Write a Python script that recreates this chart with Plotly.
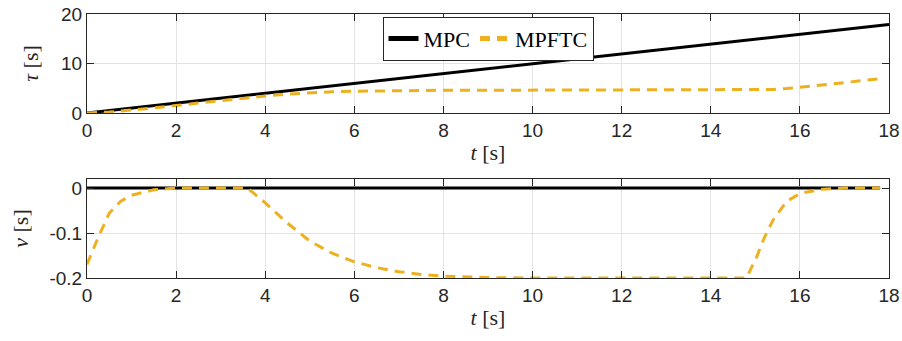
import plotly.graph_objects as go

# ---- data ----
t_mpc_tau = [0, 18]
tau_mpc = [0, 17.9]

t_mpftc = [0, 0.25, 0.5, 0.75, 1, 1.5, 2, 2.5, 3, 3.6, 4, 4.5, 5, 5.5, 6, 6.5, 7, 7.5, 8, 9, 10, 11,
           12, 13, 14, 14.8, 15.03, 15.2, 15.4, 15.7, 16, 16.5, 17, 17.8]
tau_mpftc = [0, 0.07, 0.2, 0.38, 0.58, 1.02, 1.5, 2.0, 2.5, 3.1, 3.45, 3.82, 4.08, 4.27, 4.4, 4.48, 4.54, 4.57,
             4.59, 4.6, 4.6, 4.6, 4.6, 4.6, 4.6, 4.6, 4.62, 4.66, 4.75, 4.93, 5.18, 5.65, 6.15, 6.95]
v_mpftc = [-0.17, -0.11, -0.056, -0.03, -0.016, -0.004, 0, 0, 0, 0, -0.033, -0.078, -0.118, -0.145, -0.164,
           -0.177, -0.186, -0.192, -0.196, -0.199, -0.2, -0.2, -0.2, -0.2, -0.2, -0.2, -0.153, -0.111, -0.071,
           -0.03, -0.012, -0.003, 0, 0]
t_mpc_v = [0, 17.8]
v_mpc = [0, 0]

x_ticks = [0, 2, 4, 6, 8, 10, 12, 14, 16, 18]
tau_ticks = [0, 10, 20]
v_ticks = [0, -0.1, -0.2]
v_tick_text = ["0", "-0.1", "-0.2"]

BLACK = "#000000"
YELLOW = "#EDB120"
AX = "#262626"
GRID = "#e3e3e3"
TICKFONT = dict(family="Liberation Sans", size=19, color=AX)
SERIF = "Liberation Serif"

fig = go.Figure()
fig.add_trace(go.Scatter(x=t_mpc_tau, y=tau_mpc, mode="lines", name="MPC",
                         line=dict(color=BLACK, width=3), xaxis="x", yaxis="y"))
fig.add_trace(go.Scatter(x=t_mpftc, y=tau_mpftc, mode="lines", name="MPFTC",
                         line=dict(color=YELLOW, width=3, dash="10px,7px"), xaxis="x", yaxis="y"))
fig.add_trace(go.Scatter(x=t_mpc_v, y=v_mpc, mode="lines", showlegend=False,
                         line=dict(color=BLACK, width=3), xaxis="x2", yaxis="y2"))
fig.add_trace(go.Scatter(x=t_mpftc, y=v_mpftc, mode="lines", showlegend=False,
                         line=dict(color=YELLOW, width=3, dash="10px,7px"), xaxis="x2", yaxis="y2"))

axcommon = dict(showline=True, linecolor=AX, linewidth=1, mirror="ticks", ticks="inside",
                ticklen=7, tickcolor=AX, showgrid=True, gridcolor=GRID, gridwidth=1,
                zeroline=False, tickfont=TICKFONT, automargin=False)

xtitle = dict(text="<i>t</i> [s]", font=dict(family=SERIF, size=22, color=AX), standoff=4)

fig.update_layout(
    width=902, height=341,
    margin=dict(l=87, r=13, t=14, b=63),
    plot_bgcolor="white", paper_bgcolor="white",
    xaxis=dict(domain=[0, 1], range=[0, 18], tickvals=x_ticks, anchor="y", title=xtitle, **axcommon),
    yaxis=dict(domain=[0.625, 1], range=[0, 20], tickvals=tau_ticks, anchor="x",
               title=dict(text="<i>τ</i> [s]", font=dict(family=SERIF, size=22, color=AX), standoff=16),
               **axcommon),
    xaxis2=dict(domain=[0, 1], range=[0, 18], tickvals=x_ticks, anchor="y2", title=xtitle, **axcommon),
    yaxis2=dict(domain=[0, 0.375], range=[-0.2, 0.02], tickvals=v_ticks, ticktext=v_tick_text, anchor="x2",
                title=dict(text="<i>v</i> [s]", font=dict(family=SERIF, size=22, color=AX), standoff=14),
                **axcommon),
    legend=dict(orientation="h", x=0.5, xanchor="center", y=0.99, yanchor="top",
                bgcolor="white", bordercolor=AX, borderwidth=1,
                font=dict(family=SERIF, size=22, color="#000000"),
                itemwidth=30, tracegroupgap=0, itemsizing="constant"),
    showlegend=True,
)

fig.write_html("out.html")
